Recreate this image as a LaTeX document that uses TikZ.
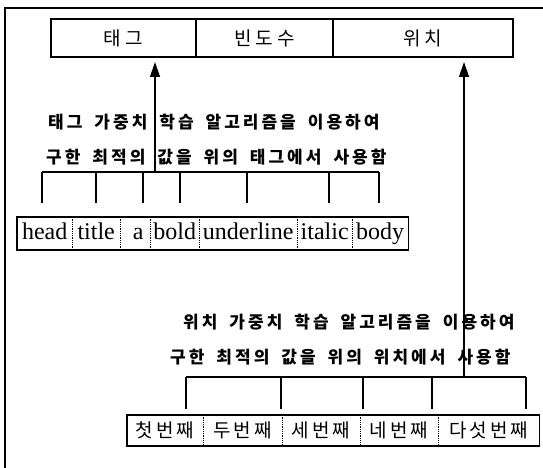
\documentclass[tikz,border=0pt]{standalone}
\usepackage{fontspec}
\usetikzlibrary{arrows.meta}
\setmainfont{Liberation Serif}
\newfontfamily\kr{Noto Sans CJK KR}
% letter spacing between Hangul syllables
\XeTeXinterchartokenstate=1
\newcount\hangulcnt
\hangulcnt="AC00
\loop\ifnum\hangulcnt<"D7A4 \XeTeXcharclass\hangulcnt=5 \advance\hangulcnt by 1 \repeat
\newdimen\kls \kls=0pt
\XeTeXinterchartoks 5 5 = {\kern\kls}
\newcommand\klsline{\kls 3pt\relax\spaceskip 12pt\relax}
\newcommand\klscell{\kls 3pt\relax}
\newcommand\klstop{\kls 4pt\relax}
\tikzset{
  topcell/.style={draw, line width=1.6pt, inner sep=0pt, minimum height=38pt, anchor=west,
    font=\kr\fontsize{19}{19}\selectfont\klstop},
  kline/.style={inner sep=0pt, anchor=west, font=\kr\bfseries\fontsize{17}{17}\selectfont\klsline},
  ecell/.style={inner sep=0pt, minimum height=33pt, text height=16pt, text depth=5pt, anchor=west,
    font=\fontsize{24}{24}\selectfont},
  kcell/.style={inner sep=0pt, minimum height=31pt, anchor=west, font=\kr\fontsize{19}{19}\selectfont\klscell},
  arr/.style={-{Triangle[length=15pt,width=10pt]}, line width=1.3pt},
  brk/.style={line width=1.1pt},
  strip/.style={line width=1.6pt},
  dv/.style={densely dotted, line width=0.8pt},
  frameline/.style={line width=1.2pt}
}
\begin{document}
\begin{tikzpicture}[x=1pt,y=-1pt]
\useasboundingbox (0,0) rectangle (543,468);
% outer frame
\coordinate (fbl) at (5,468);
\coordinate (ftl) at (5,8);
\coordinate (ftr) at (543,8);
\draw[frameline] (fbl) -- (ftl) -- (ftr);
% top record
\node[topcell, minimum width=145pt] (tTag) at (50,38) {태그};
\node[topcell, minimum width=137pt] (tFreq) at (195,38) {빈도수};
\node[topcell, minimum width=180pt] (tPos) at (332,38) {위치};
% tag text
\node[kline] (l1) at (48,122) {태그 가중치 학습 알고리즘을 이용하여};
\node[kline] (l2) at (46,157) {구한 최적의 값을 위의 태그에서 사용함};
% tag strip
\node[ecell, minimum width=55pt] (sHead) at (17,233.5) {head};
\node[ecell, minimum width=48pt] (sTitle) at (72,233.5) {title};
\node[ecell, minimum width=30pt] (sA) at (120,233.5) {\hspace*{6pt}a};
\node[ecell, minimum width=49pt] (sBold) at (150,233.5) {bold};
\node[ecell, minimum width=98pt] (sUnder) at (199,233.5) {underline};
\node[ecell, minimum width=55pt] (sItal) at (297,233.5) {italic};
\node[ecell, minimum width=56pt] (sBody) at (352,233.5) {body};
\draw[strip] (sHead.north west) rectangle (sBody.south east);
\foreach \n in {sHead,sTitle,sA,sBold,sUnder,sItal}
  \draw[dv] (\n.north east) -- (\n.south east);
% tag bracket
\coordinate (tbL) at (42,172);
\coordinate (tbR) at (379,172);
\coordinate (tbJ) at (155,172);
\draw[brk] (tbL) -- (tbR);
\foreach \x in {42,96,143,180,247,329,379}
  \draw[brk] (\x,172) -- (\x,203);
\coordinate (tTip) at (155,62);
\draw[arr] (tbJ) -- (tTip);
% position text
\node[kline] (p1) at (183,322) {위치 가중치 학습 알고리즘을 이용하여};
\node[kline] (p2) at (170,357) {구한 최적의 값을 위의 위치에서 사용함};
% position strip
\node[kcell, minimum width=76pt] (q1) at (127,430.5) {첫번째};
\node[kcell, minimum width=79pt] (q2) at (203,430.5) {두번째};
\node[kcell, minimum width=78pt] (q3) at (282,430.5) {세번째};
\node[kcell, minimum width=78pt] (q4) at (360,430.5) {네번째};
\node[kcell, minimum width=101pt] (q5) at (438,430.5) {다섯번째};
\draw[strip] (q1.north west) rectangle (q5.south east);
\foreach \n in {q1,q2,q3,q4}
  \draw[dv] (\n.north east) -- (\n.south east);
% position bracket
\coordinate (pbL) at (186,377);
\coordinate (pbR) at (526,377);
\coordinate (pbJ) at (464,377);
\draw[brk] (pbL) -- (pbR);
\foreach \x in {186,281,363,432,526}
  \draw[brk] (\x,377) -- (\x,409);
\coordinate (pTip) at (464,62);
\draw[arr] (pbJ) -- (pTip);
\end{tikzpicture}
\end{document}
